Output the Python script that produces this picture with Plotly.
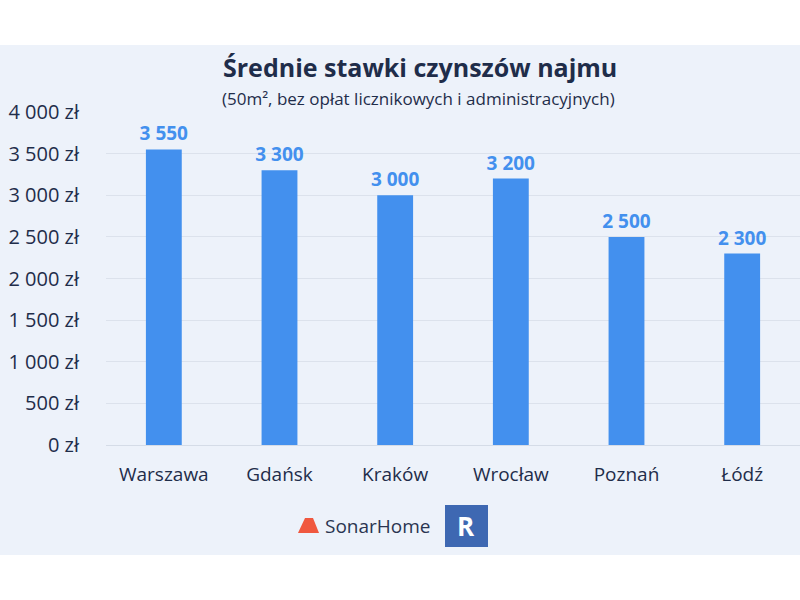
import plotly.graph_objects as go

cities = ["Warszawa", "Gdańsk", "Kraków", "Wrocław", "Poznań", "Łódź"]
rents = [3550, 3300, 3000, 3200, 2500, 2300]
tick_vals = [0, 500, 1000, 1500, 2000, 2500, 3000, 3500, 4000]
tick_text = ["0 zł", "500 zł", "1 000 zł", "1 500 zł", "2 000 zł", "2 500 zł", "3 000 zł", "3 500 zł", "4 000 zł"]

W, H = 800, 600
ML, MR, MT, MB = 106, 0, 112, 155
pw, ph = W - ML - MR, H - MT - MB

def px(x):
    return (x - ML) / pw

def py(y):
    return (H - MB - y) / ph

BG = "#EDF2FA"
BLUE = "#4390EE"
NAVY = "#1F2D4A"
FONT = "Open Sans"

labels = [f"{v:,}".replace(",", " ") for v in rents]

fig = go.Figure(go.Bar(
    x=cities, y=rents, marker=dict(color=BLUE, line=dict(width=0)),
    text=labels, textposition="outside", cliponaxis=False, constraintext="none",
    textfont=dict(family=FONT, size=19, color=BLUE, weight="bold"),
    width=0.31, hoverinfo="skip",
))

fig.update_layout(
    width=W, height=H,
    margin=dict(l=ML, r=MR, t=MT, b=MB),
    paper_bgcolor="white", plot_bgcolor="rgba(0,0,0,0)",
    showlegend=False,
    font=dict(family=FONT, color=NAVY),
    xaxis=dict(showgrid=False, showline=False, ticks="",
               tickfont=dict(size=19, color=NAVY), ticklabelstandoff=16),
    yaxis=dict(range=[0, 4000], tickvals=tick_vals, ticktext=tick_text,
               showgrid=True, gridcolor="#DCE2EC", gridwidth=1,
               zeroline=True, zerolinecolor="#D5DCE7", zerolinewidth=1,
               showline=False, ticks="", tickfont=dict(size=20, color=NAVY),
               ticklabelstandoff=26),
    shapes=[
        dict(type="rect", xref="paper", yref="paper", layer="below",
             x0=px(0), x1=px(800), y0=py(555), y1=py(45),
             fillcolor=BG, line=dict(width=0)),
        # SonarHome icon
        dict(type="path", xref="paper", yref="paper", layer="above",
             path=f"M {px(298)},{py(533)} L {px(305)},{py(518)} L {px(313)},{py(518)} L {px(319)},{py(533)} Z",
             fillcolor="#F0583F", line=dict(width=0)),
        # R logo
        dict(type="rect", xref="paper", yref="paper", layer="above",
             x0=px(445), x1=px(488), y0=py(547), y1=py(505),
             fillcolor="#3E68B2", line=dict(width=0)),
    ],
    annotations=[
        dict(text="<b>Średnie stawki czynszów najmu</b>", xref="paper", yref="paper",
             x=px(420), y=py(67), showarrow=False, xanchor="center", yanchor="middle",
             font=dict(size=25, color=NAVY, family=FONT)),
        dict(text="(50m², bez opłat licznikowych i administracyjnych)", xref="paper", yref="paper",
             x=px(418), y=py(98), showarrow=False, xanchor="center", yanchor="middle",
             font=dict(size=17, color=NAVY, family=FONT)),
        dict(text="SonarHome", xref="paper", yref="paper",
             x=px(323), y=py(526), showarrow=False, xanchor="left", yanchor="middle",
             font=dict(size=19, color="#2A3550", family=FONT)),
        dict(text="<b>R</b>", xref="paper", yref="paper",
             x=px(466.5), y=py(526), showarrow=False, xanchor="center", yanchor="middle",
             font=dict(size=26, color="white", family=FONT)),
    ],
)

fig.write_html("out.html", config={"displayModeBar": False})
with open("out.html", encoding="utf-8") as f:
    html = f.read()
html = html.replace("<head>", "<head><style>html,body{margin:0;padding:0;}</style>", 1)
with open("out.html", "w", encoding="utf-8") as f:
    f.write(html)
